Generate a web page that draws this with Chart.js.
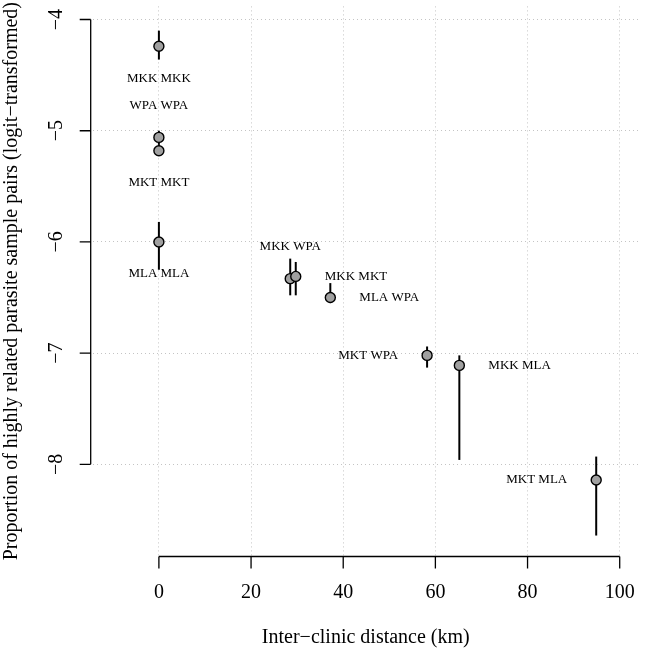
<!DOCTYPE html>
<html lang="en">
<head>
    <meta charset="UTF-8">
    <title>Highly related parasite pairs vs distance</title>
    <script src="https://cdn.jsdelivr.net/npm/chart.js"></script>
    <style>
        body {
            margin: 0;
            background: #ffffff;
        }
        #box {
            position: relative;
            width: 645px;
            height: 653px;
        }
    </style>
</head>
<body>

<div id="box">
    <canvas id="grafico"></canvas>
</div>

<script>
    // clinic pairs, distance between clinics and logit proportion with interval
    const pairs = ['MKK MKK', 'WPA WPA', 'MKT MKT', 'MLA MLA', 'MKK WPA', 'MKK MKT', 'MLA WPA', 'MKT WPA', 'MKK MLA', 'MKT MLA'];
    const distance = [0, 0, 0, 0, 28.5, 29.7, 37.2, 58.2, 65.2, 94.9];
    const estimate = [-4.24, -5.06, -5.18, -6.00, -6.33, -6.31, -6.50, -7.02, -7.11, -8.14];
    const lower = [-4.36, -5.12, -5.22, -6.25, -6.48, -6.48, -6.55, -7.13, -7.96, -8.64];
    const upper = [-4.10, -5.00, -5.12, -5.82, -6.15, -6.18, -6.37, -6.94, -7.02, -7.93];
    const labelSide = ['below', 'above', 'below', 'below', 'above', 'right', 'right', 'left', 'right', 'left'];

    const xTicks = [0, 20, 40, 60, 80, 100];
    const yTicks = [-8, -7, -6, -5, -4];

    const serif = '"Liberation Serif", "DejaVu Serif", serif';

    function fixTicks(values) {
        return function (scale) {
            scale.ticks = values.map(v => ({ value: v }));
        };
    }

    function noSize(scale) {
        scale.width = 0;
        scale.height = 0;
    }

    // error bars under the points
    const errorBars = {
        id: 'errorBars',
        beforeDatasetsDraw(chart) {
            const ctx = chart.ctx;
            const x = chart.scales.x, y = chart.scales.y;
            ctx.save();
            ctx.strokeStyle = '#000';
            ctx.lineWidth = 2;
            for (let i = 0; i < distance.length; i++) {
                const px = x.getPixelForValue(distance[i]);
                ctx.beginPath();
                ctx.moveTo(px, y.getPixelForValue(upper[i]));
                ctx.lineTo(px, y.getPixelForValue(lower[i]));
                ctx.stroke();
            }
            ctx.restore();
        }
    };

    // pair names next to points
    const pairLabels = {
        id: 'pairLabels',
        afterDatasetsDraw(chart) {
            const ctx = chart.ctx;
            const x = chart.scales.x, y = chart.scales.y;
            ctx.save();
            ctx.fillStyle = '#000';
            ctx.font = '13px ' + serif;
            ctx.textBaseline = 'middle';
            for (let i = 0; i < pairs.length; i++) {
                const px = x.getPixelForValue(distance[i]);
                const py = y.getPixelForValue(estimate[i]);
                const side = labelSide[i];
                if (side === 'above') {
                    ctx.textAlign = 'center';
                    ctx.fillText(pairs[i], px, py - 32);
                } else if (side === 'below') {
                    ctx.textAlign = 'center';
                    ctx.fillText(pairs[i], px, py + 32);
                } else if (side === 'right') {
                    ctx.textAlign = 'left';
                    ctx.fillText(pairs[i], px + 29, py);
                } else {
                    ctx.textAlign = 'right';
                    ctx.fillText(pairs[i], px - 29, py);
                }
            }
            ctx.restore();
        }
    };

    // base-graphics style axes, detached from the plot box
    const rAxes = {
        id: 'rAxes',
        afterDraw(chart) {
            const ctx = chart.ctx;
            const x = chart.scales.x, y = chart.scales.y;
            const area = chart.chartArea;
            ctx.save();
            ctx.strokeStyle = '#000';
            ctx.fillStyle = '#000';
            ctx.lineWidth = 1.3;
            ctx.font = '20px ' + serif;

            // x axis
            const ay = 556.5;
            ctx.beginPath();
            ctx.moveTo(x.getPixelForValue(xTicks[0]), ay);
            ctx.lineTo(x.getPixelForValue(xTicks[xTicks.length - 1]), ay);
            xTicks.forEach(t => {
                const px = x.getPixelForValue(t);
                ctx.moveTo(px, ay);
                ctx.lineTo(px, ay + 12);
            });
            ctx.stroke();
            ctx.textAlign = 'center';
            ctx.textBaseline = 'middle';
            xTicks.forEach(t => {
                ctx.fillText(String(t).replace('-', '\u2212'), x.getPixelForValue(t), 593);
            });
            ctx.fillText('Inter\u2212clinic distance (km)', (area.left + area.right) / 2, 638);

            // y axis
            const ax = 90.7;
            ctx.beginPath();
            ctx.moveTo(ax, y.getPixelForValue(yTicks[0]));
            ctx.lineTo(ax, y.getPixelForValue(yTicks[yTicks.length - 1]));
            yTicks.forEach(t => {
                const py = y.getPixelForValue(t);
                ctx.moveTo(ax, py);
                ctx.lineTo(ax - 11, py);
            });
            ctx.stroke();
            yTicks.forEach(t => {
                ctx.save();
                ctx.translate(57, y.getPixelForValue(t));
                ctx.rotate(-Math.PI / 2);
                ctx.fillText(String(t).replace('-', '\u2212'), 0, 0);
                ctx.restore();
            });
            ctx.save();
            ctx.translate(12, (area.top + area.bottom) / 2);
            ctx.rotate(-Math.PI / 2);
            ctx.fillText('Proportion of highly related parasite sample pairs (logit\u2212transformed)', 0, 0);
            ctx.restore();

            ctx.restore();
        }
    };

    const ctx = document.getElementById('grafico').getContext('2d');
    new Chart(ctx, {
        type: 'scatter',
        data: {
            datasets: [{
                data: distance.map((d, i) => ({ x: d, y: estimate[i] })),
                backgroundColor: '#a0a0a0',
                borderColor: '#000',
                borderWidth: 1.4,
                pointRadius: 5,
                pointHoverRadius: 5
            }]
        },
        options: {
            responsive: true,
            maintainAspectRatio: false,
            animation: false,
            events: [],
            layout: {
                padding: { left: 93, right: 5, top: 0, bottom: 97 }
            },
            plugins: {
                legend: { display: false },
                tooltip: { enabled: false }
            },
            scales: {
                x: {
                    type: 'linear',
                    min: -14.3,
                    max: 104.1,
                    afterBuildTicks: fixTicks(xTicks),
                    afterFit: noSize,
                    ticks: { display: false },
                    border: { display: false, dash: [1, 3] },
                    grid: {
                        color: '#c4c4c4',
                        lineWidth: 1,
                        drawTicks: false
                    }
                },
                y: {
                    type: 'linear',
                    min: -8.824,
                    max: -3.882,
                    afterBuildTicks: fixTicks(yTicks),
                    afterFit: noSize,
                    ticks: { display: false },
                    border: { display: false, dash: [1, 3] },
                    grid: {
                        color: '#c4c4c4',
                        lineWidth: 1,
                        drawTicks: false
                    }
                }
            }
        },
        plugins: [errorBars, pairLabels, rAxes]
    });
</script>

</body>
</html>
